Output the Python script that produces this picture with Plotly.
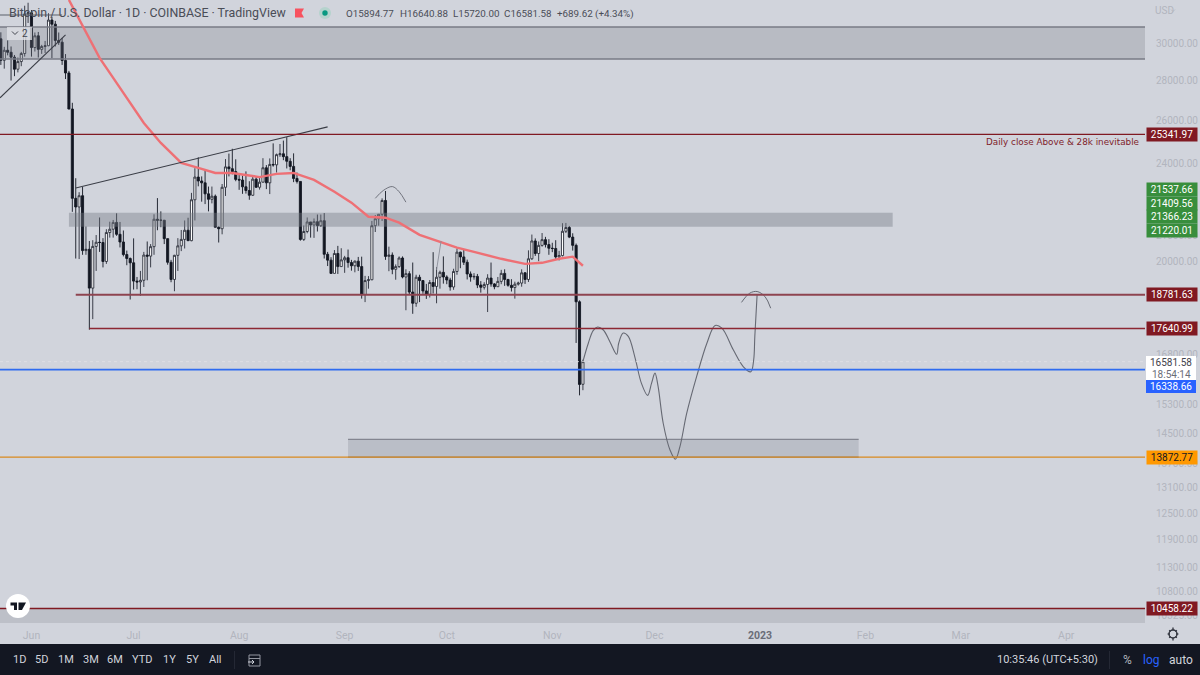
import math
import pandas as pd
import plotly.graph_objects as go

# ---------- OHLC (USD, daily from 23 May 2022) ----------
first_day = "2022-05-23"
opens = [30290,29100,29650,29540,29270,28620,29030,29470,31730,31800,29800,30460,29700,29860,29900,31370,31130,30200,30100,29090,28420,26570,22490,22130,22600,20400,20450,19020,20560,20720,20710,19990,21100,21230,21500,21030,20730,20250,20100,
 19940,19270,19240,19300,20230,20190,20550,21630,21590,21590,20860,19960,19330,20220,20580,20830,21190,20780,22430,23400,23230,23150,22680,22450,22580,21310,21250,22960,23850,23770,23640,
 23300,23270,22980,22820,22620,23310,22960,23180,23810,23150,23960,23940,24400,24440,24310,24100,23870,23340,23210,20830,21140,21520,21400,21530,21370,21570,20260,20040,19550,20290,19800,
 20050,20130,19950,19830,20000,19800,18790,19290,19320,21370,21650,21830,22400,20180,20230,19700,19800,20120,19420,19540,18880,18490,19410,19290,18920,18800,19220,19080,19410,19590,
 19420,19310,19060,19620,20340,20160,19960,19530,19420,19440,19130,19050,19150,19380,19170,19070,19260,19550,19330,19120,19040,19160,19200,19570,19330,20090,20770,20290,20600,20820,20630,
 20490,20480,20160,20210,21150,21300,20920,20600,18540,15894.77]
highs = [30660,29840,30200,29860,29390,29250,29560,32220,32400,31960,30650,30680,29950,30170,31770,31560,31320,30650,30340,29440,28530,26880,23350,22750,22970,21340,20770,20800,21000,21700,20880,21230,21530,21600,21870,21520,21180,20400,20140,
 20870,19420,19640,20350,20750,20650,21830,22500,21950,21600,20860,20050,20240,20880,21200,21580,21690,22720,23790,24280,23430,23750,22990,22990,22650,21340,23100,24200,24450,24670,24190,
 23500,23460,23650,23220,23470,23400,23370,24240,23930,24230,24920,24450,24890,25050,25210,24240,24460,23600,23210,21380,21700,21520,21660,21820,21820,21880,20350,20150,20420,20580,20490,
 20200,20440,20050,20030,20160,20170,19460,19450,21560,21800,21830,22490,22800,20550,20330,19880,20180,20180,19700,19630,19950,19500,19500,19310,19170,19310,20340,19780,19650,20180,
 19480,19390,19720,20480,20360,20450,20060,19620,19560,19530,19270,19230,19520,19950,19200,19420,19680,19700,19350,19340,19250,19250,19700,19600,20410,21020,20870,20750,21080,20930,20840,
 20700,20800,20390,21470,21480,21360,21070,20670,18590,16640.88]
lows = [28850,28650,29370,28020,28250,28450,28780,29300,31200,29300,29580,29250,29450,29500,29880,29220,29860,29950,28850,28100,26560,21930,20100,20080,20240,20240,17600,17950,19640,20350,19770,19900,20900,20900,20970,20520,20180,19850,18620,
 18970,18980,18750,19060,19300,19770,20240,21190,21310,20650,19870,19230,18910,19640,20380,20480,20780,20760,21580,23000,22350,22250,21950,22280,21690,20710,21030,22590,23430,23520,23220,
 22850,22680,22690,22430,22590,22930,22860,23160,22880,22670,23860,23600,24300,24150,23780,23700,23180,23120,20780,20770,21070,20900,20890,21140,21320,20100,19820,19550,19550,19530,19800,
 19570,19760,19650,19590,19640,18650,18530,19000,19300,21120,21370,21560,20050,19630,19520,19320,19750,19370,18250,18800,18130,18370,18530,18820,18640,18690,18830,18490,19000,19180,
 19160,18930,18960,19500,19740,19860,19330,19250,19320,19020,18860,18970,18190,19070,18980,19060,19160,19100,19070,18900,18650,19110,19070,19170,19240,20050,20200,20000,20550,20520,20240,
 20340,20050,20030,20180,21080,20880,20400,17170,15570,15720.00]
closes = [29100,29650,29540,29270,28620,29030,29470,31730,31800,29800,30460,29700,29860,29900,31370,31130,30200,30100,29090,28420,26570,22490,22130,22600,20400,20450,19020,20560,20720,20710,19990,21100,21230,21500,21030,20730,20250,20100,19940,
 19270,19240,19300,20230,20190,20550,21630,21590,21590,20860,19960,19330,20220,20580,20830,21190,20780,22430,23400,23230,23150,22680,22450,22580,21310,21250,22960,23850,23770,23640,23300,
 23270,22980,22820,22620,23310,22960,23180,23810,23150,23960,23940,24400,24440,24310,24100,23870,23340,23210,20830,21140,21520,21400,21530,21370,21570,20260,20040,19550,20290,19800,20050,
 20130,19950,19830,20000,19800,18790,19290,19320,21370,21650,21830,22400,20180,20230,19700,19800,20120,19420,19540,18880,18490,19410,19290,18920,18800,19220,19080,19410,19590,19420,
 19310,19060,19620,20340,20160,19960,19530,19420,19440,19130,19050,19150,19380,19170,19070,19260,19550,19330,19120,19040,19160,19200,19570,19330,20090,20770,20290,20600,20820,20630,20490,
 20480,20160,20210,21150,21300,20920,20600,18540,15890,16581.58]
candle_days = pd.date_range(first_day, periods=len(closes), freq="D")

# ---------- moving average ----------
ma_days = ["2022-06-12","2022-06-14","2022-06-17","2022-06-21","2022-06-25","2022-06-29","2022-07-04","2022-07-09","2022-07-15","2022-07-20","2022-07-25","2022-07-30","2022-08-07","2022-08-12","2022-08-17","2022-08-23","2022-08-29","2022-09-03","2022-09-08","2022-09-13","2022-09-17","2022-09-23","2022-09-29","2022-10-04","2022-10-09","2022-10-17","2022-10-24","2022-10-29","2022-11-03","2022-11-07","2022-11-10"]
ma_vals = [32570,31790,30620,29230,28160,27130,25890,24940,24030,23810,23580,23580,23400,23540,23580,23280,22770,22310,21730,21690,21490,21010,20740,20510,20350,20090,19900,19940,20090,20170,19830]

# ---------- drawings ----------
trend_a_days = ["2022-06-14","2022-08-27"]
trend_a_vals = [22930,25700]
trend_b_days = ["2022-05-22 18:00","2022-06-11"]
trend_b_vals = [27130,30510]
top_line_days = ["2022-05-22 18:00","2022-06-10"]
top_line_vals = [31670,31670]

path_days = ["2022-11-10","2022-11-11 14:00","2022-11-13","2022-11-14 08:00","2022-11-16","2022-11-17 22:00","2022-11-19 22:00","2022-11-20 12:00","2022-11-21 20:00","2022-11-23 08:00","2022-11-25 08:00","2022-11-27 04:00","2022-11-29","2022-11-30 04:00","2022-12-01 04:00","2022-12-02 02:00","2022-12-03 14:00","2022-12-05 14:00","2022-12-07 04:00","2022-12-08 12:00","2022-12-10 12:00","2022-12-13 10:00","2022-12-16 10:00","2022-12-18 20:00","2022-12-20 20:00","2022-12-24 04:00","2022-12-27 02:00","2022-12-29 08:00","2022-12-30 04:00","2022-12-30 12:00","2022-12-31 04:00"]
path_vals = [16585,17160,17570,17690,17590,17210,16810,17160,17490,17380,16690,15930,15570,15930,16230,15830,14780,14060,13820,14150,15060,16130,17160,17740,17650,16950,16430,16270,16640,17380,18780]
cap_days = ["2022-12-26 14:00","2022-12-29","2022-12-31 04:00","2023-01-02 12:00","2023-01-04 04:00"]
cap_vals = [18520,18840,18900,18720,18320]
hat_days = ["2022-09-10","2022-09-12 08:00","2022-09-15","2022-09-17","2022-09-19"]
hat_vals = [22490,22820,22990,22770,22330]
stroke_days = ["2022-09-28","2022-09-29 08:00"]
stroke_vals = [19680,20770]

# ---------- zones: start, end, low, high ----------
zone_top = ("2022-05-22 18:00","2023-04-24 03:00",29170,30967)
zone_mid = ("2022-06-12","2023-02-09",21330,21890)
zone_low = ("2022-09-02","2023-01-30",13872.77,14340)
zone_bot = ("2022-05-22 18:00","2023-04-24 03:00",10180,10458.22)

# ---------- horizontal levels ----------
level_25341 = 25341.97
level_18781 = 18781.63
level_17640 = 17640.99
level_16338 = 16338.66
level_13872 = 13872.77
level_10458 = 10458.22
last_close = 16581.58
x_first = "2022-05-22 18:00"
x_last = "2023-04-24 03:00"

price_ticks = [30000,28000,26000,24000,21000,20000,16800,15300,14500,13700,13100,12500,11900,11300,10800,10325]
month_ticks = ["2022-06-01","2022-07-01","2022-08-01","2022-09-01","2022-10-01","2022-11-01","2022-12-01","2023-01-01","2023-02-01","2023-03-01","2023-04-01"]
month_text = ["Jun","Jul","Aug","Sep","Oct","Nov","Dec","<b><span style='color:#6a6d78'>2023</span></b>","Feb","Mar","Apr"]
header_parts = ["O15894.77","H16640.88","L15720.00","C16581.58","+689.62 (+4.34%)"]
header_x = [344,397.5,451,502,555]

FONT = "Roboto"
BG = "#d1d4dc"
MUTED = "#b2b5be"
DARK = "#131722"
W_PLOT, H_PLOT = 1145, 623
px = lambda x: x / W_PLOT
py = lambda y: 1 - y / H_PLOT

fig = go.Figure()

fig.add_trace(go.Candlestick(
    x=candle_days, open=opens, high=highs, low=lows, close=closes,
    increasing=dict(line=dict(color="#2a2e39", width=0.9), fillcolor="#ffffff"),
    decreasing=dict(line=dict(color=DARK, width=0.9), fillcolor=DARK),
    whiskerwidth=0, showlegend=False, hoverinfo="skip"))

def line(xs, ys, color, width, dash=None, shape=None):
    fig.add_trace(go.Scatter(x=xs, y=ys, mode="lines", showlegend=False, hoverinfo="skip",
                             line=dict(color=color, width=width, dash=dash, shape=shape)))

def zone(z, fill, edge=None):
    a, b, lo, hi = z
    fig.add_trace(go.Scatter(x=[a, b, b, a, a], y=[lo, lo, hi, hi, lo], mode="lines",
                             fill="toself", fillcolor=fill, line=dict(width=0), showlegend=False, hoverinfo="skip"))
    if edge:
        for v in (lo, hi):
            line([a, b], [v, v], edge[0], edge[1])

zone(zone_top, "rgba(120,123,134,0.28)", ("#787b86", 1.6))
zone(zone_mid, "rgba(120,123,134,0.42)")
zone(zone_low, "rgba(120,123,134,0.25)", ("#838590", 1.2))
zone(zone_bot, "rgba(120,123,134,0.22)")

line(ma_days, ma_vals, "#ee7075", 2.4)
line(trend_a_days, trend_a_vals, "#3a3d46", 1.1)
line(trend_b_days, trend_b_vals, "#3a3d46", 1.1)
line(top_line_days, top_line_vals, "#5d606b", 1.1)
line(path_days, path_vals, "#666973", 1.1, shape="spline")
line(cap_days, cap_vals, "#666973", 1.0, shape="spline")
line(hat_days, hat_vals, "#666973", 0.9, shape="spline")
line(stroke_days, stroke_vals, "#8a8d98", 0.9)

line([x_first, x_last], [last_close]*2, "#dfe1e6", 0.8, dash="dot")
line([x_first, x_last], [level_25341]*2, "#801922", 1.3)
line(["2022-06-14", x_last], [level_18781]*2, "#8e4450", 2)
line(["2022-06-18", x_last], [level_17640]*2, "#8d2733", 1.5)
line([x_first, x_last], [level_16338]*2, "#2f6bf0", 1.7)
line([x_first, x_last], [level_13872]*2, "#d98a1f", 1.3)
line([x_first, x_last], [level_10458]*2, "#801922", 1.4)

ann = []
def tag(v, bg, fg="#ffffff", y_px=None):
    a = dict(xref="paper", x=px(1146), xanchor="left", width=50, height=13,
             text=f"{v:.2f}", showarrow=False, bgcolor=bg, align="center", borderpad=0,
             font=dict(family=FONT, size=10, color=fg), yanchor="middle")
    if y_px is None:
        a.update(yref="y", y=math.log10(v))
    else:
        a.update(yref="paper", y=py(y_px))
    ann.append(a)

RED = "#801922"; GREEN = "#388e3c"
tag(level_25341, RED)
tag(level_18781, RED)
tag(level_17640, RED)
tag(level_13872, "#ff9800", "#131722")
tag(level_10458, RED)
for v, yy in [(21537.66,190),(21409.56,203.2),(21366.23,216.6),(21220.01,230.4)]:
    tag(v, GREEN, y_px=yy)

def text(t, x, y, size=10, color="#43464f", anchor="left", family=FONT):
    ann.append(dict(xref="paper", yref="paper", x=px(x), y=py(y), text=t, showarrow=False,
                    xanchor=anchor, yanchor="middle", font=dict(family=family, size=size, color=color)))

shapes = []
def box(x0, y0, x1, y1, fill, lw=0, lc=None, kind="rect", layer="above"):
    shapes.append(dict(type=kind, xref="paper", yref="paper", x0=px(x0), x1=px(x1), y0=py(y0), y1=py(y1),
                       fillcolor=fill, line=dict(width=lw, color=lc), layer=layer))
def poly(points, fill=None, lw=0, lc=None, close=True):
    d = "M" + "L".join(f"{px(a):.5f},{py(b):.5f}" for a, b in points) + ("Z" if close else "")
    shapes.append(dict(type="path", xref="paper", yref="paper", path=d,
                       fillcolor=fill or "rgba(0,0,0,0)", line=dict(width=lw, color=lc), layer="above"))

# last price box
box(1146, 356, 1196, 380, "#ffffff")
box(1146, 380, 1196, 393, "#2962ff")
text(f"{last_close:.2f}", 1171, 362.5, color="#3f424c", anchor="center")
text("18:54:14", 1171, 374.5, color="#6a6d78", anchor="center")
text(f"{level_16338:.2f}", 1171, 386.5, color="#ffffff", anchor="center")

# header
text("Bitcoin / U.S. Dollar · 1D · COINBASE · TradingView", 7, 13, size=12.4, color="#4a4d57")
poly([(295,8.5),(304,8.5),(301.5,13),(304,17.5),(295,17.5)], fill="#f7525f")
box(319, 7, 331, 19, "#b5d3cd", kind="circle")
box(322.3, 10.3, 327.7, 15.7, "#089981", kind="circle")
for part, xx in zip(header_parts, header_x):
    text(part, xx, 13.5, size=9.8, color="#4a4d57")
box(7, 27, 32, 40, "rgba(225,227,232,0.75)")
poly([(12,31.5),(15,34.5),(18,31.5)], lw=1, lc="#43464f", close=False)
text("2", 25, 33.5, size=10, color="#43464f", anchor="center")

# price-axis heading and note
text("USD", 1153, 10.5, size=10, color=MUTED)
poly([(1171,9.5),(1173,11.5),(1175,9.5)], lw=0.8, lc=MUTED, close=False)
text("Daily close Above &amp; 28k inevitable", 1141, 142, size=8.8, color="#7f1d2a", anchor="right", family="DejaVu Sans")

# logo
box(6, 594, 30, 618, "#ffffff", kind="circle")
poly([(10.5,602.5),(17,602.5),(17,610),(14,610),(14,605.5),(10.5,605.5)], fill="#131722")
poly([(18.5,602.5),(26,602.5),(22,610),(18.5,610)], fill="#131722")

# gear
box(1169, 630, 1177, 638, "rgba(0,0,0,0)", lw=1.4, lc="#30333d", kind="circle")
for a, b, c, d in [(1173,627.6,1173,630),(1173,638,1173,640.4),(1167.6,634,1170,634),(1176,634,1178.4,634),
                   (1169.2,630.2,1170.6,631.6),(1175.4,636.4,1176.8,637.8),(1176.8,630.2,1175.4,631.6),(1170.6,636.4,1169.2,637.8)]:
    poly([(a,b),(c,d)], lw=1.3, lc="#30333d", close=False)

# bottom toolbar
box(0, 644, 1200, 675, DARK)
for lab, xc in [("1D",19),("5D",42),("1M",66),("3M",90.5),("6M",115),("YTD",142),("1Y",169),("5Y",192),("All",215)]:
    text(lab, xc, 660, size=11, color="#d1d4dc", anchor="center")
box(234, 651, 234.8, 669, "#2a2e39")
box(249, 655, 260, 666, "rgba(0,0,0,0)", lw=1, lc="#9598a1")
poly([(249,658.5),(260,658.5)], lw=1, lc="#9598a1", close=False)
poly([(248,662),(254,662),(252,660),(254,662),(252,664)], lw=1, lc="#d1d4dc", close=False)
box(1109, 651, 1109.8, 669, "#2a2e39")
text("10:35:46 (UTC+5:30)", 995, 660, size=11, color="#d1d4dc")
text("%", 1127, 660, size=12, color="#b2b5be", anchor="center")
text("log", 1151, 660, size=12, color="#2962ff", anchor="center")
text("auto", 1181, 660, size=12, color="#d1d4dc", anchor="center")

fig.update_layout(
    width=1200, height=675, autosize=False,
    margin=dict(l=0, r=55, t=0, b=52), paper_bgcolor=BG, plot_bgcolor=BG,
    boxgap=0.12, showlegend=False, hovermode=False, dragmode=False,
    annotations=ann, shapes=shapes,
    xaxis=dict(type="date", range=[x_first, x_last], rangeslider=dict(visible=False), showgrid=False,
               zeroline=False, showline=False, tickmode="array", tickvals=month_ticks, ticktext=month_text,
               ticks="outside", ticklen=2, tickcolor="rgba(0,0,0,0)", tickangle=0,
               tickfont=dict(family=FONT, size=10.5, color=MUTED)),
    yaxis=dict(type="log", side="right", range=[math.log10(10180), math.log10(32566)], showgrid=False,
               zeroline=False, showline=False, tickmode="array", tickvals=price_ticks,
               ticktext=[f"{v:.2f}" for v in price_ticks], ticks="outside", ticklen=8,
               tickcolor="rgba(0,0,0,0)", tickfont=dict(family=FONT, size=10, color=MUTED)),
)
fig.write_html("out.html", config=dict(displayModeBar=False),
               post_script="document.documentElement.style.margin='0';document.body.style.margin='0';document.body.style.overflow='hidden';")
